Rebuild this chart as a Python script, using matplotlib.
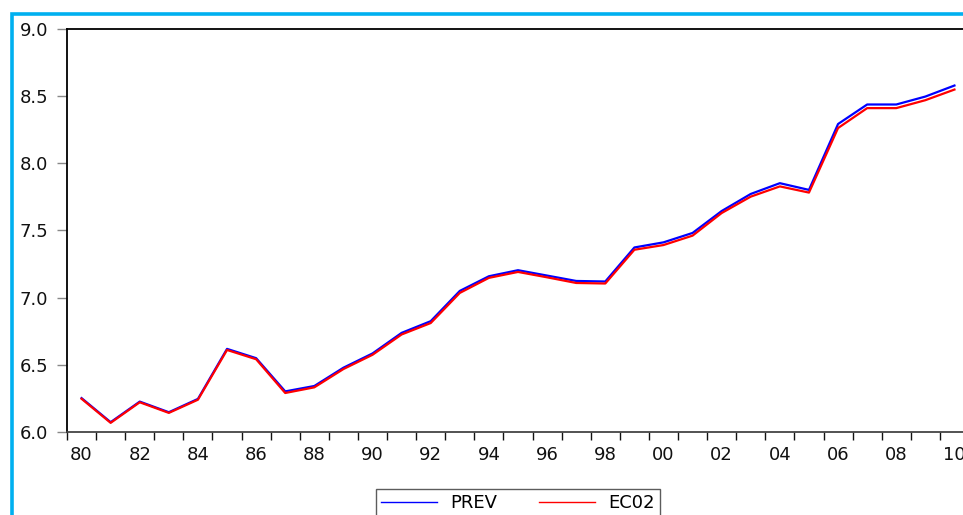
import matplotlib
matplotlib.use("Agg")
import matplotlib.pyplot as plt
from matplotlib.patches import Rectangle

plt.rcParams['font.family'] = ['DejaVu Sans']

years = list(range(1980, 2011))
prev = [6.252, 6.073, 6.226, 6.147, 6.246, 6.618, 6.549, 6.302, 6.342, 6.478,
        6.584, 6.737, 6.824, 7.049, 7.158, 7.203, 7.163, 7.123, 7.119, 7.372,
        7.410, 7.480, 7.643, 7.770, 7.850, 7.800, 8.290, 8.435, 8.435, 8.494,
        8.576]
ec02 = [6.247, 6.068, 6.221, 6.142, 6.240, 6.610, 6.541, 6.290, 6.332, 6.468,
        6.574, 6.725, 6.810, 7.034, 7.146, 7.190, 7.150, 7.108, 7.104, 7.355,
        7.390, 7.460, 7.628, 7.750, 7.826, 7.780, 8.260, 8.408, 8.408, 8.467,
        8.546]
yticks = [6.0, 6.5, 7.0, 7.5, 8.0, 8.5, 9.0]
series_names = ['PREV', 'EC02']

W, H = 963, 515
FS = 13
fig = plt.figure(figsize=(W / 100, H / 100), dpi=100)
fig.patch.set_facecolor('white')

# cyan frame (left and top visible)
fig.add_artist(Rectangle((11.5 / W, -0.1), 1.2, 1 - 13.5 / H + 0.1,
                         transform=fig.transFigure, fill=False,
                         edgecolor='#00b0f0', linewidth=2.6, zorder=0))

ax = fig.add_axes([67 / W, 83 / H, 902 / W, 403.5 / H])

xs = [y + 0.5 for y in years]
ax.plot(xs, prev, color='#0000ff', lw=1.6, label=series_names[0], zorder=3)
ax.plot(xs, ec02, color='#ff0000', lw=1.6, label=series_names[1], zorder=4)

ax.set_xlim(1980, 2011)
ax.set_ylim(6.0, 9.0)

# y axis
ax.set_yticks(yticks)
ax.set_yticklabels([f"{v:.1f}" for v in yticks])
ax.tick_params(axis='y', direction='out', length=7, width=1, color='#888888',
               pad=6.5, labelsize=FS, labelcolor='#111111')

# x axis: ticks at year boundaries, labels at mid-year of even years
ax.set_xticks(list(range(1980, 2012)))
ax.set_xticklabels([])
ax.tick_params(axis='x', which='major', direction='out', length=6, width=1,
               color='#111111')
ax.set_xticks([y + 0.5 for y in years if y % 2 == 0], minor=True)
ax.set_xticklabels([f"{y % 100:02d}" for y in years if y % 2 == 0], minor=True)
ax.tick_params(axis='x', which='minor', length=0, pad=10, labelsize=FS,
               labelcolor='#111111')

for s in ['left', 'top']:
    ax.spines[s].set_color('#000000')
    ax.spines[s].set_linewidth(1.3)
ax.spines['bottom'].set_color('#444444')
ax.spines['bottom'].set_linewidth(1.3)
ax.spines['right'].set_visible(False)

leg = fig.legend(loc='upper center', bbox_to_anchor=(518 / W, 1 - 489 / H),
                 borderaxespad=0, ncol=2, fontsize=FS, frameon=True,
                 fancybox=False, handlelength=3.1, handletextpad=0.75,
                 columnspacing=2.3, borderpad=0.3, edgecolor='#333333')
leg.get_frame().set_linewidth(1.0)
for l in leg.get_lines():
    l.set_linewidth(1.0)

fig.savefig('out.png', dpi=100)
